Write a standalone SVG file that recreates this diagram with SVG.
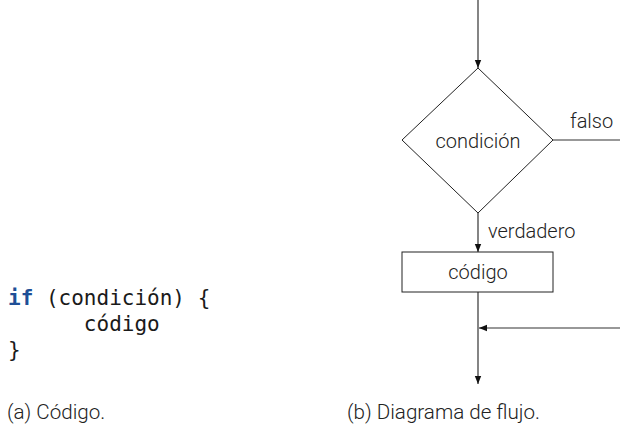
<svg xmlns="http://www.w3.org/2000/svg" width="620" height="425" viewBox="0 0 620 425">
<defs>
<style>
.ln{stroke:#333;stroke-width:1.2;fill:none}
.shape{stroke:#222;stroke-width:1;fill:#fff}
.lbl{font-family:Roboto,"Liberation Sans",sans-serif;font-weight:300;font-size:20px;fill:#222}
.cap{font-size:20.6px}
.code{font-family:"DejaVu Sans Mono","Liberation Mono",monospace;font-size:21px;fill:#1a1a1a}
.kw{font-weight:bold;fill:#1f4f96}
</style>
<marker id="ah" viewBox="0 0 10 10" refX="10" refY="5" markerWidth="8" markerHeight="8" markerUnits="userSpaceOnUse" orient="auto">
<path d="M0,1 L10,5 L0,9 z" fill="#111"/>
</marker>
</defs>
<rect width="620" height="425" fill="#fff"/>
<g id="code">
<text class="code" x="8" y="305"><tspan class="kw">if</tspan> (condición) {</text>
<text class="code" x="8" y="331" xml:space="preserve">      código</text>
<text class="code" x="8" y="357">}</text>
</g>
<g id="connectors">
<line class="ln" x1="478" y1="0" x2="478" y2="68" marker-end="url(#ah)"/>
<line class="ln" x1="553" y1="140" x2="620" y2="140"/>
<line class="ln" x1="478" y1="213" x2="478" y2="252" marker-end="url(#ah)"/>
<line class="ln" x1="478" y1="292" x2="478" y2="384" marker-end="url(#ah)"/>
<line class="ln" x1="620" y1="328" x2="479" y2="328" marker-end="url(#ah)"/>
<text class="lbl" x="570" y="128">falso</text>
<text class="lbl" x="488" y="238">verdadero</text>
</g>
<g id="cond">
<polygon class="shape" points="478,68 553,140 478,213 402,140"/>
<text class="lbl" x="478" y="148" text-anchor="middle">condición</text>
</g>
<g id="codigo">
<rect class="shape" x="402" y="252" width="151" height="40"/>
<text class="lbl" x="478" y="279" text-anchor="middle">código</text>
</g>
<g id="captions">
<text class="lbl cap" x="7" y="419">(a) Código.</text>
<text class="lbl cap" x="347" y="419">(b) Diagrama de flujo.</text>
</g>
</svg>
